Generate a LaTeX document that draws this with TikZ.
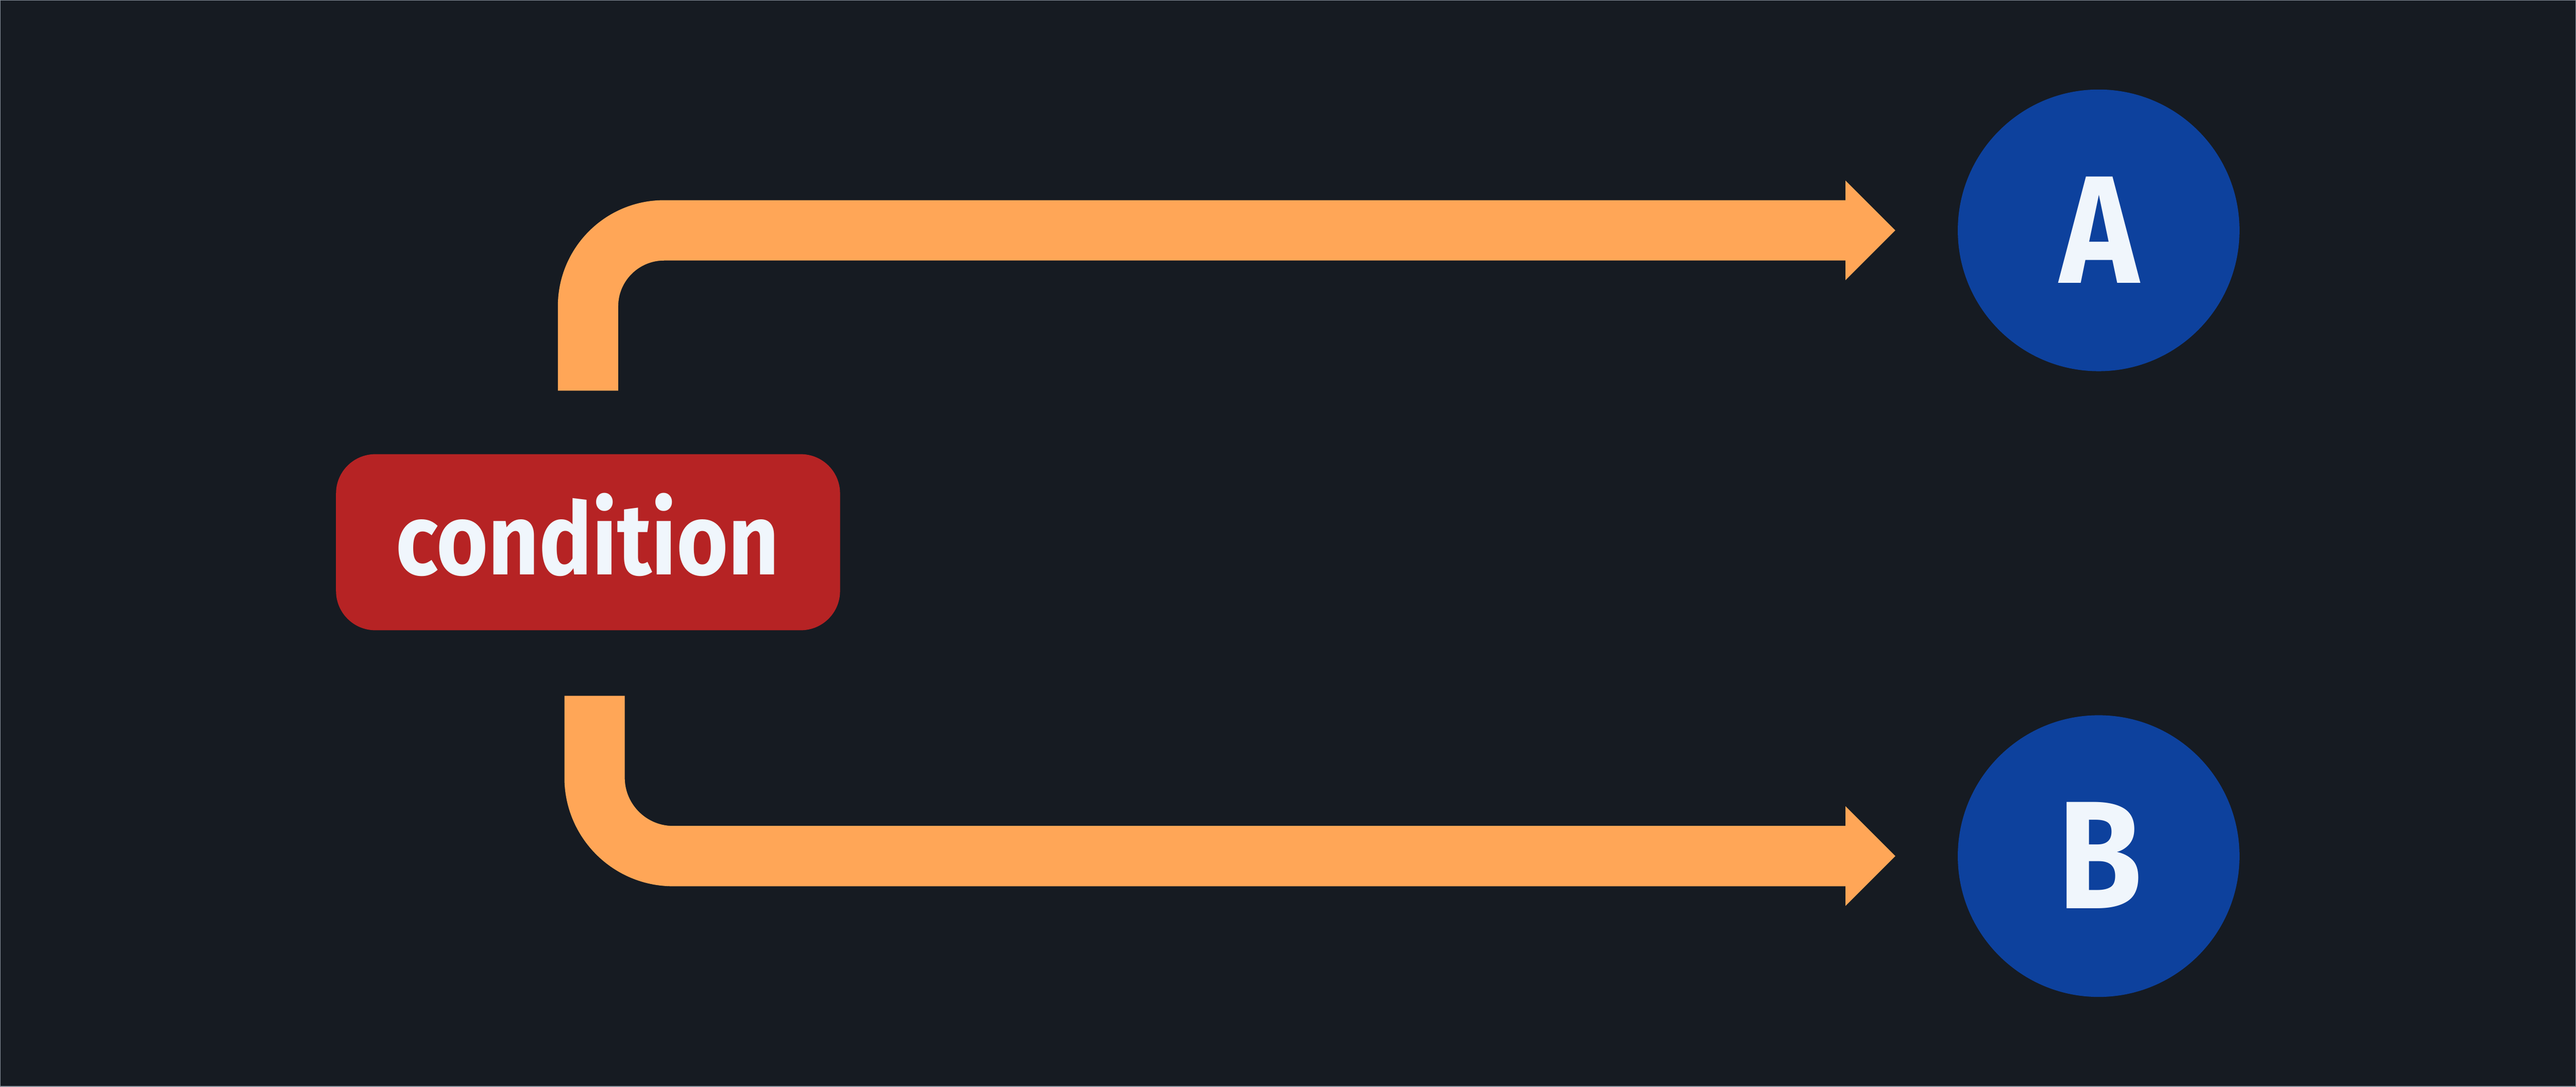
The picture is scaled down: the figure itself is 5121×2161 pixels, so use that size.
\documentclass[tikz,border=0pt]{standalone}
\usepackage{fontspec}
\setmainfont{Fira Sans}
\newfontfamily\labelfont{Fira Sans Bold}
\usetikzlibrary{calc}
\definecolor{bgc}{HTML}{161B22}
\definecolor{framec}{HTML}{8B949E}
\definecolor{orangec}{HTML}{FFA657}
\definecolor{redc}{HTML}{B62324}
\definecolor{bluec}{HTML}{0D419D}
\definecolor{textc}{HTML}{F0F6FC}
\tikzset{
  condbox/.style={fill=redc, draw=none, rounded corners=78pt, minimum width=1002pt, minimum height=350pt, inner sep=0pt},
  target/.style={circle, fill=bluec, draw=none, minimum size=560pt, inner sep=0pt},
  shaft/.style={draw=orangec, line width=120pt, line cap=butt},
  headfill/.style={fill=orangec},
  condtext/.style={text=textc, inner sep=0pt, font=\labelfont\fontsize{200}{240}\selectfont},
  lettertext/.style={text=textc, inner sep=0pt, font=\labelfont\fontsize{305}{360}\selectfont},
}
\begin{document}
\begin{tikzpicture}[x=1pt,y=1pt]
  \fill[bgc] (0,0) rectangle (5121,2161);
  \useasboundingbox (0,0) rectangle (5121,2161);
  \draw[framec, line width=3pt] (0,0) rectangle (5121,2161);

  \node[condbox] (cond) at (1169,1083) {};
  \node[condtext, anchor=base] (condlabel) at (1168,1019) {\scalebox{0.88}[1]{condition}};

  \node[target] (A) at (4172,1703) {};
  \node[target] (B) at (4172,459) {};
  \node[lettertext, anchor=base] (Alabel) at (4173,1598) {\scalebox{0.87}[1]{A}};
  \node[lettertext, anchor=base] (Blabel) at (4175,355) {\scalebox{0.89}[1]{B}};

  % top branch
  \coordinate (startA) at ($(cond.north)+(0,126)$);
  \coordinate (tipA) at ($(A.west)+(-124,0)$);
  \coordinate (baseA) at ($(tipA)+(-99,0)$);
  \draw[shaft, rounded corners=151pt] (startA) |- (baseA);
  \fill[headfill] (tipA) -- ($(baseA)+(0,99)$) -- ($(baseA)+(0,-99)$) -- cycle;

  % bottom branch
  \coordinate (startB) at ($(cond.south)+(13,-130)$);
  \coordinate (tipB) at ($(B.west)+(-124,0)$);
  \coordinate (baseB) at ($(tipB)+(-99,0)$);
  \draw[shaft, rounded corners=156pt] (startB) |- (baseB);
  \fill[headfill] (tipB) -- ($(baseB)+(0,99)$) -- ($(baseB)+(0,-99)$) -- cycle;
\end{tikzpicture}
\end{document}
